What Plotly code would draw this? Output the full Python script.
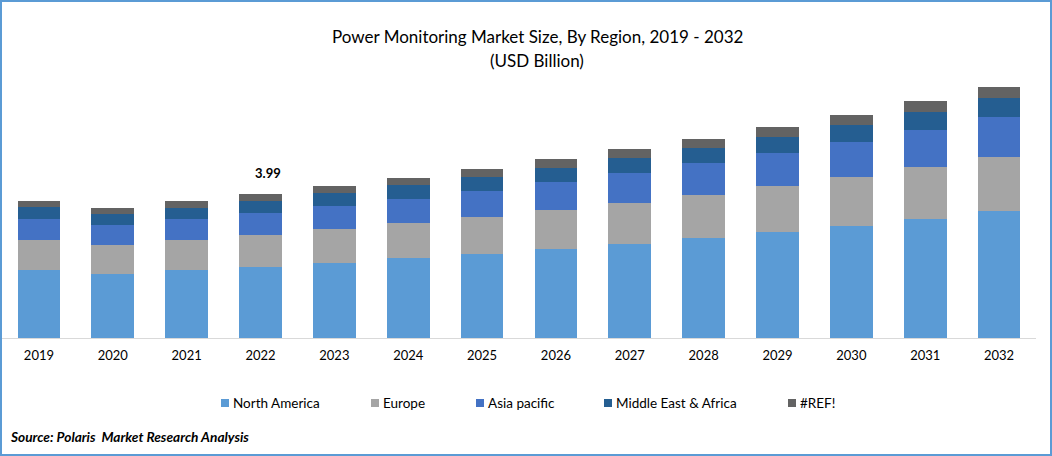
import plotly.graph_objects as go

years = ['2019', '2020', '2021', '2022', '2023', '2024', '2025', '2026', '2027', '2028', '2029', '2030', '2031', '2032']
north_america = [1.89, 1.78, 1.89, 1.97, 2.08, 2.22, 2.33, 2.47, 2.61, 2.77, 2.94, 3.10, 3.30, 3.52]
europe = [0.83, 0.80, 0.83, 0.88, 0.94, 0.97, 1.02, 1.08, 1.13, 1.19, 1.27, 1.35, 1.44, 1.49]
asia_pacific = [0.58, 0.55, 0.58, 0.61, 0.64, 0.66, 0.72, 0.77, 0.83, 0.88, 0.91, 0.97, 1.02, 1.11]
mea = [0.33, 0.30, 0.30, 0.33, 0.36, 0.39, 0.39, 0.39, 0.41, 0.41, 0.44, 0.47, 0.50, 0.53]
ref = [0.17, 0.17, 0.19, 0.20, 0.19, 0.19, 0.22, 0.25, 0.25, 0.25, 0.28, 0.28, 0.30, 0.30]

series = [
    ('North America', north_america, '#5B9BD5'),
    ('Europe', europe, '#A5A5A5'),
    ('Asia pacific', asia_pacific, '#4472C4'),
    ('Middle East & Africa', mea, '#255E91'),
    ('#REF!', ref, '#636363'),
]
legend_left = [221, 371, 476, 604, 788]

FONT = 'Lato'
W, H = 1052, 456
L, R, T, B = 2, 16, 70, 118
plot_w, plot_h = W - L - R, H - T - B


# Pixel position in the page -> paper fraction
def px_x(p):
    return (p - L) / plot_w


def px_y(p):
    return 1 - (p - T) / plot_h


fig = go.Figure()
for name, values, color in series:
    fig.add_trace(go.Bar(x=years, y=values, name=name, marker_color=color, marker_line_width=0, width=0.58))

# Total label on 2022 only (category axes take the index here, not the label)
i_2022 = years.index('2022')
total_2022 = sum(s[1][i_2022] for s in series)
fig.add_annotation(x=i_2022, y=total_2022, text='<b>%.2f</b>' % total_2022, showarrow=False,
                   xshift=7, yshift=21, yanchor='middle', font=dict(family=FONT, size=13, color='#000000'))

# Title lines
for text, y in [('Power Monitoring Market Size, By Region, 2019 - 2032', 36.5), ('(USD Billion)', 60)]:
    fig.add_annotation(xref='paper', yref='paper', x=px_x(537), y=px_y(y), text=text, showarrow=False,
                       xanchor='center', yanchor='middle', font=dict(family=FONT, size=17, color='#000000'))

# Source note
fig.add_annotation(xref='paper', yref='paper', x=px_x(8), y=px_y(436.5), xanchor='left', yanchor='middle', showarrow=False,
                   text='<b><i>Source: Polaris  Market Research Analysis</i></b>', font=dict(family=FONT, size=13.7, color='#000000'))

# Legend: small squares with the label right beside them
for (name, values, color), left in zip(series, legend_left):
    fig.add_shape(type='rect', xref='paper', yref='paper', x0=px_x(left), x1=px_x(left + 8), y0=px_y(399), y1=px_y(407),
                  fillcolor=color, line_width=0)
    fig.add_annotation(xref='paper', yref='paper', x=px_x(left + 12), y=px_y(402.5), xanchor='left', yanchor='middle', xshift=-2,
                       showarrow=False, text=name, font=dict(family=FONT, size=13.5, color='#000000'))

# Blue frame around the whole picture
fig.add_shape(type='rect', xref='paper', yref='paper', x0=px_x(1), x1=px_x(W - 1), y0=px_y(H - 1), y1=px_y(1),
              line=dict(color='#5B9BD5', width=2), fillcolor='rgba(0,0,0,0)')

fig.update_layout(
    width=W,
    height=H,
    margin=dict(l=L, r=R, t=T, b=B, pad=0),
    barmode='stack',
    showlegend=False,
    plot_bgcolor='white',
    paper_bgcolor='white',
    font=dict(family=FONT, size=13, color='#000000'),
)
# Invisible ticks only push the labels down from the axis line
fig.update_xaxes(type='category', range=[-0.5, 13.5], showline=True, linecolor='#D9D9D9', linewidth=1, showgrid=False,
                 ticks='outside', ticklen=5, tickcolor='rgba(0,0,0,0)',
                 tickfont=dict(family=FONT, size=13, color='#000000'))
fig.update_yaxes(visible=False, range=[0, 7.42], showgrid=False, zeroline=False)

fig.write_html('out.html', config=dict(displayModeBar=False), post_script="document.body.style.margin='0';")
